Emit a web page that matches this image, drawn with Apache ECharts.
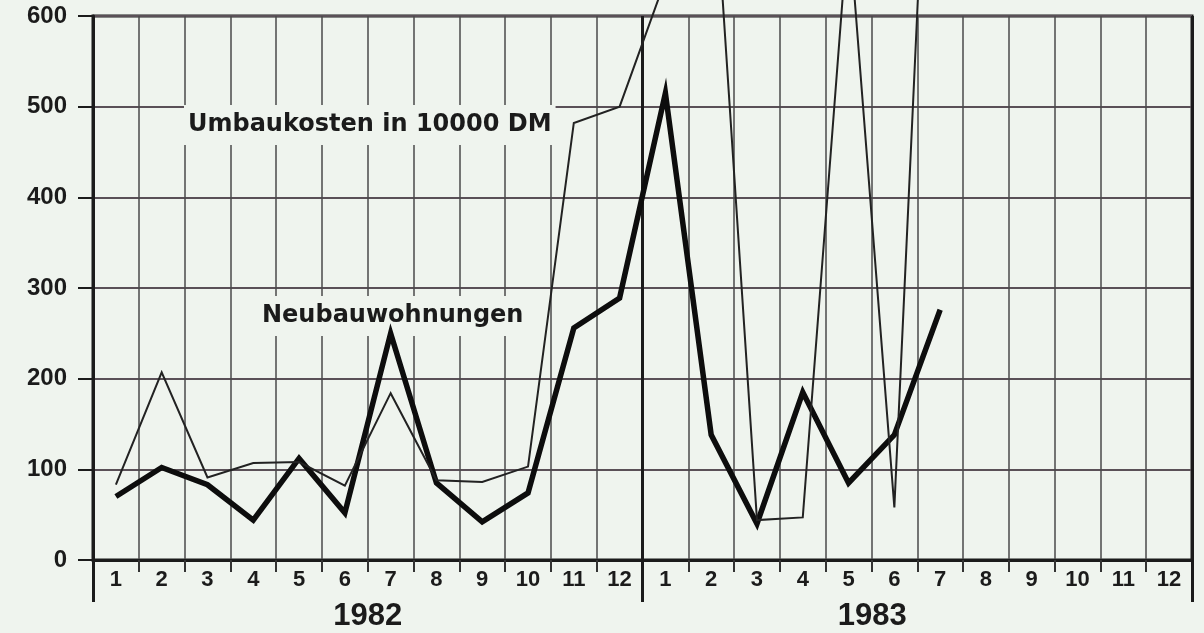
<!DOCTYPE html>
<html>
<head>
<meta charset="utf-8">
<script src="https://cdn.jsdelivr.net/npm/echarts@6/dist/echarts.min.js"></script>
<style>
  html, body { margin: 0; padding: 0; background: #eff4ee; }
  #chart { width: 1204px; height: 633px; }
</style>
</head>
<body>
<div id="chart"></div>
<script>
// ---------------- 데이터 ----------------
const years = ["1982", "1983"];
const monthLabels = ["1","2","3","4","5","6","7","8","9","10","11","12",
                     "1","2","3","4","5","6","7","8","9","10","11","12"];
const monthKeys = monthLabels.map((m, i) => years[i < 12 ? 0 : 1] + "-" + m);

// Umbaukosten in 10000 DM (dünne Linie, läuft oben aus dem Rahmen)
const umbaukosten = [83, 207, 91, 107, 108, 82, 184, 88, 86, 103, 482, 500,
                     640, 810, 44, 47, 705, 58, 1150, null, null, null, null, null];
// Neubauwohnungen (dicke Linie)
const neubau = [70, 102, 83, 44, 112, 52, 250, 85, 42, 74, 256, 289,
                515, 138, 40, 185, 85, 138, 276, null, null, null, null, null];

const yTicks = { min: 0, max: 600, interval: 100 };

// ---------------- 차트 ----------------
const bg = "#eff4ee";
const ink = "#1b1b1b";
const numFont = "Liberation Sans";

let chartDom = document.getElementById("chart");
let myChart = echarts.init(chartDom);
let option;

option = {
  backgroundColor: bg,
  animation: false,
  grid: {
    left: 93,
    right: 12,
    top: 16,
    bottom: 73,
    show: true,
    borderColor: ink,
    borderWidth: 3,
  },
  xAxis: [
    {
      type: "category",
      data: monthKeys,
      boundaryGap: true,
      axisLine: { show: true, lineStyle: { color: ink, width: 3 } },
      axisTick: { show: true, interval: 0, inside: false, length: 12, lineStyle: { color: "#333", width: 2 } },
      splitLine: { show: true, interval: 0, lineStyle: { color: "#4a4a4a", width: 1.5 } },
      axisLabel: {
        interval: 0,
        margin: 9,
        color: ink,
        fontFamily: numFont,
        fontWeight: "bold",
        fontSize: 22,
        formatter: (v, i) => monthLabels[i],
      },
    },
    {
      // Jahresachse: Trennlinie 1982/1983 und Jahreszahlen
      type: "category",
      data: years,
      position: "bottom",
      boundaryGap: true,
      axisLine: { show: false },
      axisTick: { show: true, interval: 0, inside: false, length: 42, lineStyle: { color: ink, width: 3 } },
      splitLine: { show: true, interval: 0, lineStyle: { color: ink, width: 3 } },
      axisLabel: {
        show: true,
        interval: 0,
        margin: 41,
        formatter: (v, i) => (i === 1 ? "{b|" + v + "}" : "{a|" + v + "}"),
        rich: {
          a: { fontFamily: numFont, fontWeight: "bold", fontSize: 31, color: ink },
          b: { fontFamily: numFont, fontWeight: "bold", fontSize: 31, color: ink, padding: [0, 90, 0, 0] },
        },
      },
    },
  ],
  yAxis: {
    type: "value",
    min: yTicks.min,
    max: yTicks.max,
    interval: yTicks.interval,
    axisLine: { show: true, lineStyle: { color: ink, width: 3 } },
    axisTick: { show: true, length: 15, lineStyle: { color: ink, width: 2 } },
    splitLine: { show: true, lineStyle: { color: "#5a5057", width: 2 } },
    axisLabel: {
      margin: 26,
      color: ink,
      fontFamily: numFont,
      fontWeight: "bold",
      fontSize: 24,
    },
  },
  graphic: [
    {
      type: "text",
      z: 1,
      x: 184,
      y: 125,
      style: {
        text: "Umbaukosten in 10000 DM",
        font: "bold 24px 'DejaVu Sans'",
        fill: ink,
        backgroundColor: bg,
        padding: [8, 4],
        verticalAlign: "middle",
      },
    },
    {
      type: "text",
      z: 1,
      x: 258,
      y: 316,
      style: {
        text: "Neubauwohnungen",
        font: "bold 24px 'DejaVu Sans'",
        fill: ink,
        backgroundColor: bg,
        padding: [8, 4],
        verticalAlign: "middle",
      },
    },
  ],
  series: [
    {
      name: "Neubauwohnungen",
      type: "line",
      data: neubau,
      showSymbol: false,
      lineStyle: { color: "#0d0d0d", width: 5.5, join: "miter" },
      z: 3,
    },
    {
      name: "Umbaukosten in 10000 DM",
      type: "line",
      data: umbaukosten,
      showSymbol: false,
      clip: false,
      lineStyle: { color: "#222", width: 2, join: "miter" },
      z: 4,
    },
  ],
};
myChart.setOption(option);

window.onresize = function () {
  myChart.resize();
};
</script>
</body>
</html>
